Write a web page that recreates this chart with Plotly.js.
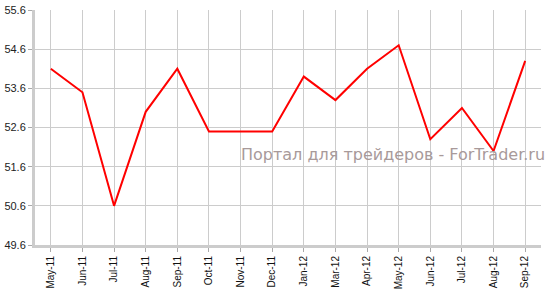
<!DOCTYPE html>
<html><head><meta charset="utf-8">
<script src="https://cdn.plot.ly/plotly-3.0.1.min.js"></script>
<style>body{margin:0;padding:0;background:#fff}#chart{width:553px;height:290px}</style>
</head><body><div id="chart"></div>
<script>
const months = ["May-11","Jun-11","Jul-11","Aug-11","Sep-11","Oct-11","Nov-11","Dec-11","Jan-12","Mar-12","Apr-12","May-12","Jun-12","Jul-12","Aug-12","Sep-12"];
const values = [54.1,53.5,50.6,53.0,54.1,52.5,52.5,52.5,53.9,53.3,54.1,54.7,52.3,53.1,52.0,54.3];
const yTicks = [49.6,50.6,51.6,52.6,53.6,54.6,55.6];
const watermark = "Портал для трейдеров - ForTrader.ru";

Plotly.newPlot("chart",[{
  x: months, y: values, type: "scatter", mode: "lines",
  line: {color: "#ff0000", width: 2}
}],{
  width: 553, height: 290,
  margin: {l: 35, r: 12, t: 10, b: 45},
  paper_bgcolor: "#fff", plot_bgcolor: "#fff",
  showlegend: false,
  font: {family: "Liberation Sans, Arial, sans-serif", color: "#222"},
  xaxis: {
    type: "category", range: [-0.5, 15.5],
    showgrid: true, gridcolor: "#cccccc", gridwidth: 1,
    showline: true, linecolor: "#cccccc", linewidth: 3,
    ticks: "outside", ticklen: 4, tickcolor: "#aaaaaa",
    tickangle: -90, tickfont: {size: 10, color: "#111"}
  },
  yaxis: {
    range: [49.6, 55.6], tickvals: yTicks, ticktext: yTicks.map(v => v.toFixed(1)),
    showgrid: true, gridcolor: "#cccccc", gridwidth: 1,
    showline: true, linecolor: "#cccccc", linewidth: 3,
    ticks: "outside", ticklen: 4, tickcolor: "#aaaaaa",
    tickfont: {size: 11, color: "#222"}, zeroline: false
  },
  annotations: [{
    text: watermark, xref: "paper", yref: "paper", x: 1.012, y: 0.385,
    xanchor: "right", yanchor: "middle", showarrow: false,
    font: {size: 16, color: "#a89a9a", family: "DejaVu Sans, sans-serif"}
  }]
},{displayModeBar: false, staticPlot: true});
</script></body></html>
